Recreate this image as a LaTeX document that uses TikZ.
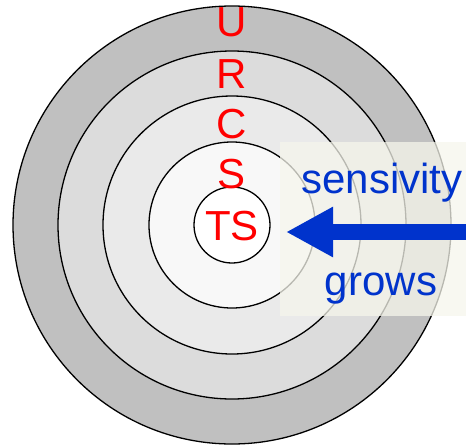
\documentclass[tikz,border=0pt]{standalone}
\usepackage{fontspec}
\setmainfont{Liberation Sans}
\usetikzlibrary{arrows.meta, positioning}

\definecolor{ringU}{HTML}{C0C0C0}
\definecolor{ringR}{HTML}{DCDCDC}
\definecolor{ringC}{HTML}{EAEAEA}
\definecolor{ringS}{HTML}{F8F8F8}
\definecolor{tintbox}{HTML}{F6F6EC}
\definecolor{levelred}{HTML}{FF0000}
\definecolor{sensblue}{HTML}{0033CC}

\begin{document}
\begin{tikzpicture}[
    x=1pt, y=1pt,
    ring/.style={circle, draw=black, line width=1.3pt, inner sep=0pt},
    level/.style={text=levelred, font=\fontsize{42}{48}\selectfont, inner sep=0pt, anchor=base},
    senstext/.style={text=sensblue, font=\fontsize{42}{48}\selectfont, inner sep=0pt, anchor=base},
    bigarrow/.style={-{Triangle[length=47pt, width=47pt]}, line width=16pt, draw=sensblue}
]
    \useasboundingbox (0,0) rectangle (466,-445);

    % Concentric rings, outermost first
    \node (U) [ring, fill=ringU, minimum size=438pt] at (232,-225) {};
    \node (R) [ring, fill=ringR, minimum size=348pt] at (U.center) {};
    \node (C) [ring, fill=ringC, minimum size=258pt] at (U.center) {};
    \node (S) [ring, fill=ringS, minimum size=166pt] at (U.center) {};
    \node (TS) [ring, fill=white, minimum size=76pt] at (U.center) {};

    % Level letters stacked upwards
    \node (lblTS) [level] at (232,-240) {TS};
    \node (lblS) [level] at (232,-188) {S};
    \node (lblC) [level] at (232,-138) {C};
    \node (lblR) [level] at (232,-88) {R};
    \node (lblU) [level] at (232,-36) {U};

    % Tinted panel behind the arrow
    \fill [tintbox, opacity=0.75] (280,-142) rectangle (466,-316);

    % Sensitivity arrow pointing inwards
    \coordinate (arrowfrom) at (466,-232);
    \coordinate (arrowto) at (286,-232);
    \draw [bigarrow] (arrowfrom) -- (arrowto);

    \node (sens) [senstext] at (382,-193) {sensivity};
    \node (grows) [senstext] at (381,-295) {grows};
\end{tikzpicture}
\end{document}
